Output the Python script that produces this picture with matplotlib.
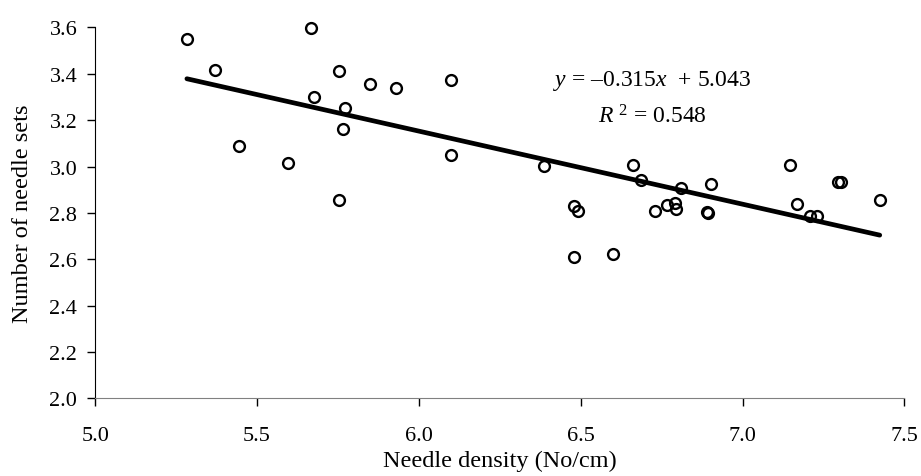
import numpy as np
import matplotlib
matplotlib.use("Agg")
import matplotlib.pyplot as plt
from matplotlib.ticker import FormatStrFormatter

# needle density (No/cm) and number of needle sets
density = [5.283, 5.370, 5.445, 5.596, 5.668, 5.677, 5.754, 5.772, 5.766,
           5.752, 5.848, 5.928, 6.100, 6.100, 6.386, 6.479, 6.492, 6.479,
           6.600, 6.662, 6.686, 6.729, 6.768, 6.790, 6.793, 6.809, 6.889,
           6.894, 6.903, 7.147, 7.167, 7.209, 7.230, 7.294, 7.305, 7.424]
needle_sets = [3.552, 3.418, 3.091, 3.015, 3.598, 3.299, 3.414, 3.252, 3.161,
               2.858, 3.355, 3.338, 3.372, 3.052, 3.003, 2.831, 2.809, 2.612,
               2.625, 3.007, 2.942, 2.809, 2.833, 2.844, 2.819, 2.909, 2.806,
               2.800, 2.925, 3.006, 2.837, 2.788, 2.785, 2.935, 2.935, 2.857]

slope = -0.315
intercept = 5.043
r_squared = 0.548

x_ticks = [5.0, 5.5, 6.0, 6.5, 7.0, 7.5]
y_ticks = [2.0, 2.2, 2.4, 2.6, 2.8, 3.0, 3.2, 3.4, 3.6]


def plot_chart() -> None:
    """Scatter of needle sets vs density with the linear trend line."""
    plt.rcParams["font.family"] = ["Liberation Serif", "DejaVu Serif"]
    plt.rcParams["mathtext.fontset"] = "custom"
    plt.rcParams["mathtext.rm"] = "Liberation Serif"
    plt.rcParams["mathtext.it"] = "Liberation Serif:italic"

    fig = plt.figure(figsize=(9.21, 4.77), dpi=100)
    ax = fig.add_axes([0.1035, 0.1625, 0.8784, 0.7778])

    x = np.array(density)
    ax.plot(x, needle_sets, "o", markersize=7.8, markerfacecolor="none",
            markeredgecolor="black", markeredgewidth=1.7, zorder=3,
            clip_on=False)

    x_line = np.array([x.min(), x.max()])
    ax.plot(x_line, slope * x_line + intercept, color="black",
            linewidth=3.4, solid_capstyle="round", zorder=2)

    eq = (r"$y$ = –%.3f$x$  + %.3f" % (abs(slope), intercept)
          + "\n" + r"$R$ $^{2}$ = %.3f" % r_squared)
    ax.text(6.72, 3.191, eq, ha="center", va="baseline", fontsize=17,
            linespacing=1.65, multialignment="center")

    ax.set_xlim(5.0, 7.5)
    ax.set_ylim(2.0, 3.6)
    ax.set_xticks(x_ticks)
    ax.set_yticks(y_ticks)
    ax.xaxis.set_major_formatter(FormatStrFormatter("%.1f"))
    ax.yaxis.set_major_formatter(FormatStrFormatter("%.1f"))
    ax.tick_params(direction="out", length=5.5, width=1, labelsize=16,
                   colors="black")
    ax.tick_params(axis="x", pad=14)
    ax.tick_params(axis="y", pad=7.5)

    ax.spines["top"].set_visible(False)
    ax.spines["right"].set_visible(False)
    ax.spines["left"].set_color("black")
    ax.spines["bottom"].set_color("#808080")

    ax.set_xlabel("Needle density (No/cm)", fontsize=17.5, labelpad=4)
    ax.set_ylabel("Number of needle sets", fontsize=17.5)
    ax.yaxis.set_label_coords(-0.077, 0.5)

    fig.savefig("out.png", dpi=100)


def main():
    plot_chart()


if __name__ == "__main__":
    main()
